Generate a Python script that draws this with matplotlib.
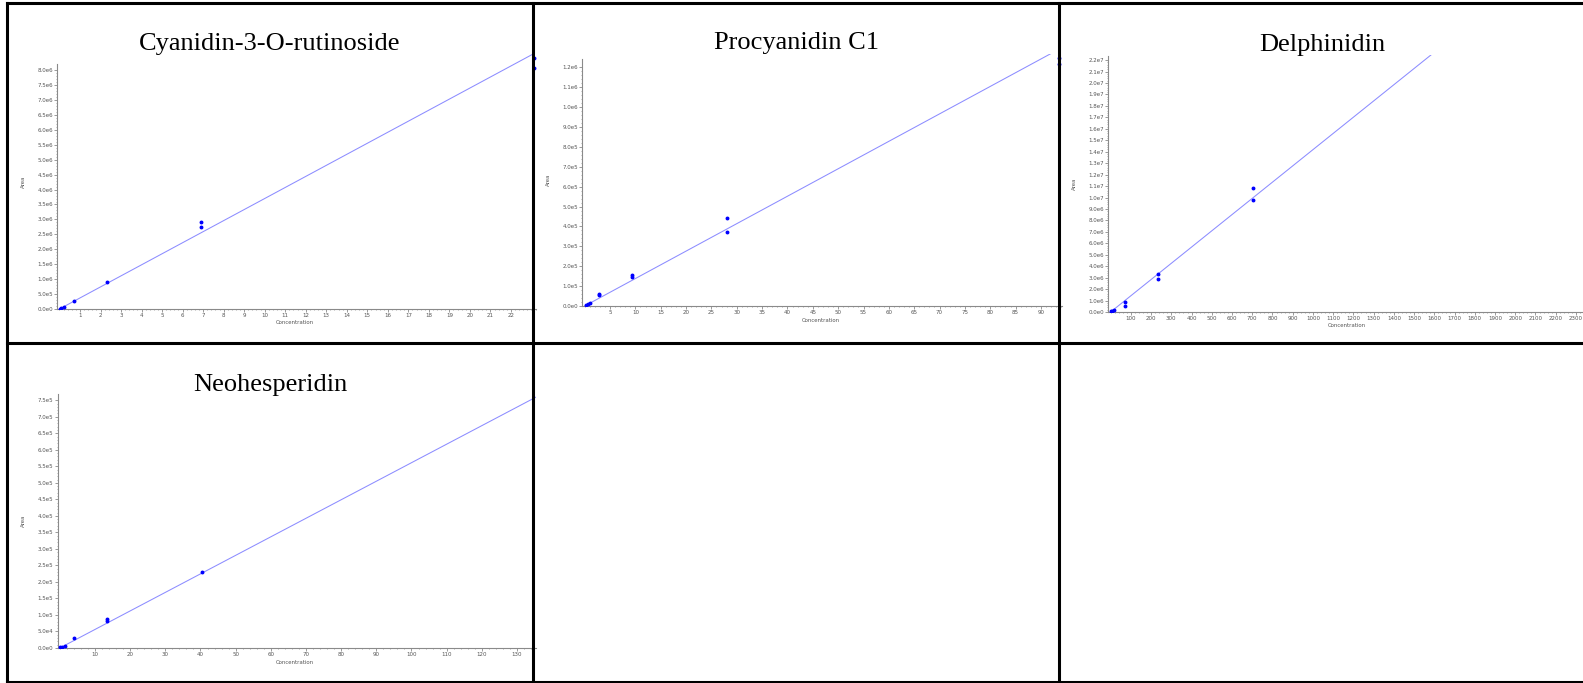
import numpy as np
import matplotlib
matplotlib.use("Agg")
import matplotlib.pyplot as plt
from matplotlib.lines import Line2D
from matplotlib.ticker import FixedLocator, MultipleLocator, FuncFormatter

# calibration standards (concentration, peak area) and linear fits
cy_conc = [0.03, 0.08, 0.23, 0.69, 2.3, 6.9, 6.9, 23.1, 23.1]
cy_area = [0.01e6, 0.03e6, 0.08e6, 0.26e6, 0.90e6, 2.73e6, 2.92e6, 8.08e6, 8.39e6]
cy_fit = (3.70e5, 0.0)

pc_conc = [0.18, 0.7, 1.04, 2.8, 2.8, 9.4, 9.4, 28.1, 28.1, 93.5, 93.5]
pc_area = [0.004e6, 0.012e6, 0.015e6, 0.054e6, 0.060e6, 0.145e6, 0.158e6,
           0.372e6, 0.443e6, 1.217e6, 1.245e6]
pc_fit = (1.38e4, 0.0)

de_conc = [4, 9, 16, 71, 71, 233, 233, 702, 702]
de_area = [0.05e6, 0.10e6, 0.20e6, 0.56e6, 0.89e6, 2.87e6, 3.30e6, 9.80e6, 10.81e6]
de_fit = (1.418e4, 0.0)

ne_conc = [0.2, 0.6, 1.5, 3.9, 13.3, 13.3, 40.3]
ne_area = [0.2e4, 0.4e4, 0.7e4, 2.97e4, 8.17e4, 8.78e4, 2.30e5]
ne_fit = (5.61e3, 0.0)

titles = ["Cyanidin-3-O-rutinoside", "Procyanidin C1", "Delphinidin", "Neohesperidin"]

W, H = 1583, 683
fig = plt.figure(figsize=(W / 100, H / 100), dpi=100)
fig.patch.set_facecolor("white")


def fx(px):
    return px / W


def fy(py):
    return 1 - py / H


def sci(v, pos=None):
    if v == 0:
        return "0.0e0"
    e = int(np.floor(np.log10(abs(v)) + 1e-9))
    return f"{v / 10 ** e:.1f}e{e}"


def panel(box, border_x, xlim, ylim, xticks, xminor, yticks, yminor,
          conc, area, fit):
    left, top, right, bottom = box
    ax = fig.add_axes([fx(left), fy(bottom), fx(right - left), (bottom - top) / H])
    ax.set_xlim(*xlim)
    ax.set_ylim(*ylim)
    for s in ["top", "right"]:
        ax.spines[s].set_visible(False)
    for s in ["left", "bottom"]:
        ax.spines[s].set_color("#8a8a8a")
        ax.spines[s].set_linewidth(0.8)
    ax.spines["left"].set_bounds(0, yticks[-1] + (yticks[1] - yticks[0]) * 0.4)

    ax.xaxis.set_major_locator(FixedLocator(xticks))
    ax.xaxis.set_minor_locator(MultipleLocator(xminor))
    ax.yaxis.set_major_locator(FixedLocator(yticks))
    ax.yaxis.set_minor_locator(FixedLocator(
        np.arange(0, yticks[-1] + yminor * 0.5, yminor)))
    ax.yaxis.set_major_formatter(FuncFormatter(sci))
    ax.xaxis.set_major_formatter(FuncFormatter(lambda v, p: f"{v:g}"))
    ax.tick_params(which="major", length=2, width=0.6, color="#8a8a8a",
                   labelsize=4.0, labelcolor="#555555", pad=1.0)
    ax.tick_params(which="minor", length=1, width=0.5, color="#8a8a8a")

    a, b = fit
    xs = np.array([0, xlim[1]])
    ax.plot(xs, a * xs + b, color="#8c8cff", lw=0.75, zorder=2)
    ax.plot(conc, area, "o", color="#0000ff", ms=1.8, mec="#0000ff", zorder=3)

    cx = (left + border_x) / 2
    fig.text(fx(cx), fy(bottom + 14), "Concentration", fontsize=3.9,
             color="#555555", ha="center", va="center")
    fig.text(fx(left - 34), fy((top + bottom) / 2), "Area", fontsize=3.9,
             color="#555555", ha="center", va="center", rotation=90)
    return ax


panel((57, 54, 536, 309), 533, (-0.12, 23.22), (0, 8.54e6),
      np.arange(1, 23), 0.2, np.arange(0, 8.01e6, 0.5e6), 1e5,
      cy_conc, cy_area, cy_fit)
panel((582, 54, 1062, 306), 1059, (-0.53, 94.15), (0, 1.267e6),
      np.arange(5, 91, 5), 1, np.arange(0, 1.21e6, 1e5), 2e4,
      pc_conc, pc_area, pc_fit)
panel((1108, 55, 1583, 312), 1585, (-13, 2335), (0, 2.245e7),
      np.arange(100, 2301, 100), 20, np.arange(0, 2.21e7, 1e6), 2e5,
      de_conc, de_area, de_fit)
panel((57.5, 394, 536, 648), 533, (-0.65, 135.4), (0, 7.69e5),
      np.arange(10, 131, 10), 2, np.arange(0, 7.51e5, 5e4), 1e4,
      ne_conc, ne_area, ne_fit)

# cell titles
title_pos = [(270, 50), (796, 49.5), (1322, 50.5), (270, 390.5)]
for t, (tx, ty) in zip(titles, title_pos):
    fig.text(fx(tx), fy(ty), t, fontsize=19, family="Liberation Serif",
             ha="center", va="baseline", color="black")

# table grid
lw = 2.2
grid = [
    ((7, 1583), (3, 3)),
    ((7, 1583), (343, 343)),
    ((7, 1583), (682, 682)),
    ((7, 7), (3, 682)),
    ((533, 533), (3, 682)),
    ((1059, 1059), (3, 682)),
]
for (x0, x1), (y0, y1) in grid:
    fig.add_artist(Line2D([fx(x0), fx(x1)], [fy(y0), fy(y1)], color="black",
                          lw=lw, transform=fig.transFigure, zorder=10))

fig.savefig("out.png", dpi=100, facecolor="white")
